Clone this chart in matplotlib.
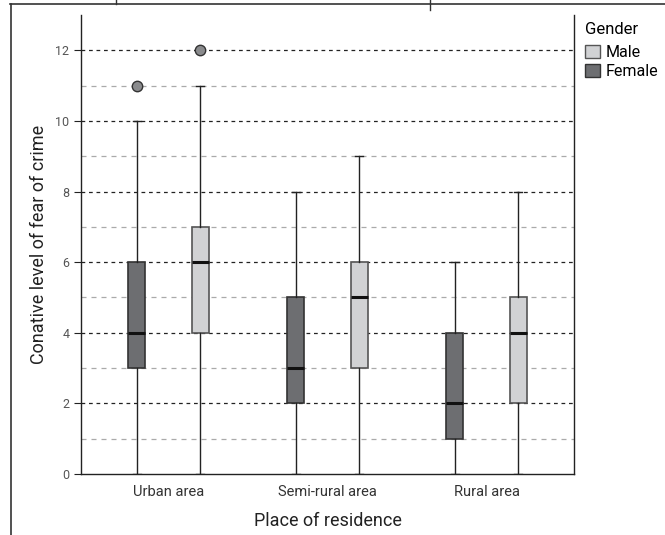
import matplotlib
matplotlib.use('Agg')
import matplotlib.pyplot as plt
from matplotlib.patches import Patch
from matplotlib.lines import Line2D

plt.rcParams['font.family'] = ['Roboto', 'DejaVu Sans']

# data
areas = ['Urban area', 'Semi-rural area', 'Rural area']
female_low = [0, 0, 0]
female_q1 = [3, 2, 1]
female_med = [4, 3, 2]
female_q3 = [6, 5, 4]
female_high = [10, 8, 6]
female_out = [[11], [], []]
male_low = [0, 0, 0]
male_q1 = [4, 3, 2]
male_med = [6, 5, 4]
male_q3 = [7, 6, 5]
male_high = [11, 9, 8]
male_out = [[12], [], []]

fig = plt.figure(figsize=(6.65, 5.35), dpi=100)
ax = fig.add_axes([0.1218, 0.114, 0.7414, 0.858])

def stats(low, q1, med, q3, high, out):
    return [dict(whislo=a, q1=b, med=c, q3=d, whishi=e, fliers=f)
            for a, b, c, d, e, f in zip(low, q1, med, q3, high, out)]

# grid lines: even values dark, odd values light
for y in range(1, 13):
    if y % 2 == 0:
        ax.axhline(y, color='#222222', lw=0.9, ls=(0, (3, 3)), zorder=0)
    else:
        ax.axhline(y, color='#aaaaaa', lw=0.9, ls=(0, (4, 4)), zorder=0)

pos = range(len(areas))
common = dict(widths=0.105, patch_artist=True, zorder=3, capwidths=0.05,
              whiskerprops=dict(color='#222222', lw=1.0),
              capprops=dict(color='#222222', lw=1.0),
              medianprops=dict(color='#111111', lw=2.2),
              flierprops=dict(marker='o', markerfacecolor='#8a8b8d',
                              markeredgecolor='#333333', markersize=7.5))
ax.bxp(stats(female_low, female_q1, female_med, female_q3, female_high, female_out),
       positions=[p - 0.2 for p in pos],
       boxprops=dict(facecolor='#6d6e71', edgecolor='#333333', lw=1.2), **common)
ax.bxp(stats(male_low, male_q1, male_med, male_q3, male_high, male_out),
       positions=[p + 0.2 for p in pos],
       boxprops=dict(facecolor='#d1d2d4', edgecolor='#555555', lw=1.2), **common)

ax.set_xlim(-0.55, 2.55)
ax.set_ylim(0, 13)
ax.set_xticks(list(pos))
ax.set_xticklabels(areas, fontsize=10.5, color='#333333')
ax.tick_params(axis='x', length=0, pad=8)
ax.set_yticks(range(0, 13, 2))
ax.tick_params(axis='y', labelsize=9, labelcolor='#555555', length=5, width=0.8, color='#222222')
ax.spines['top'].set_visible(False)
for s in ['left', 'bottom', 'right']:
    ax.spines[s].set_color('#222222')
    ax.spines[s].set_linewidth(1.0)

ax.set_xlabel('Place of residence', fontsize=13, color='#222222', labelpad=9)
ax.set_ylabel('Conative level of fear of crime', fontsize=13, color='#222222', labelpad=5)

handles = [Patch(facecolor='#d1d2d4', edgecolor='#555555', label='Male'),
           Patch(facecolor='#6d6e71', edgecolor='#333333', label='Female')]
leg = ax.legend(handles=handles, title='Gender', loc='upper left',
                bbox_to_anchor=(1.0, 1.01), frameon=False, fontsize=11.5,
                title_fontsize=12, handlelength=0.9, handleheight=0.9,
                handletextpad=0.4, borderaxespad=0.3, labelspacing=0.25)
leg._legend_box.align = 'left'
leg._legend_box.sep = 6

# page frame fragments
fig.add_artist(Line2D([10 / 665, 1], [1 - 4 / 535] * 2, color='#333333', lw=1.2))
fig.add_artist(Line2D([11 / 665] * 2, [0, 1 - 4 / 535], color='#333333', lw=1.2))
fig.add_artist(Line2D([430 / 665] * 2, [1, 1 - 10 / 535], color='#333333', lw=1.0))
fig.add_artist(Line2D([116 / 665] * 2, [1, 1 - 4 / 535], color='#333333', lw=1.0))

fig.savefig('out.png', dpi=100)
